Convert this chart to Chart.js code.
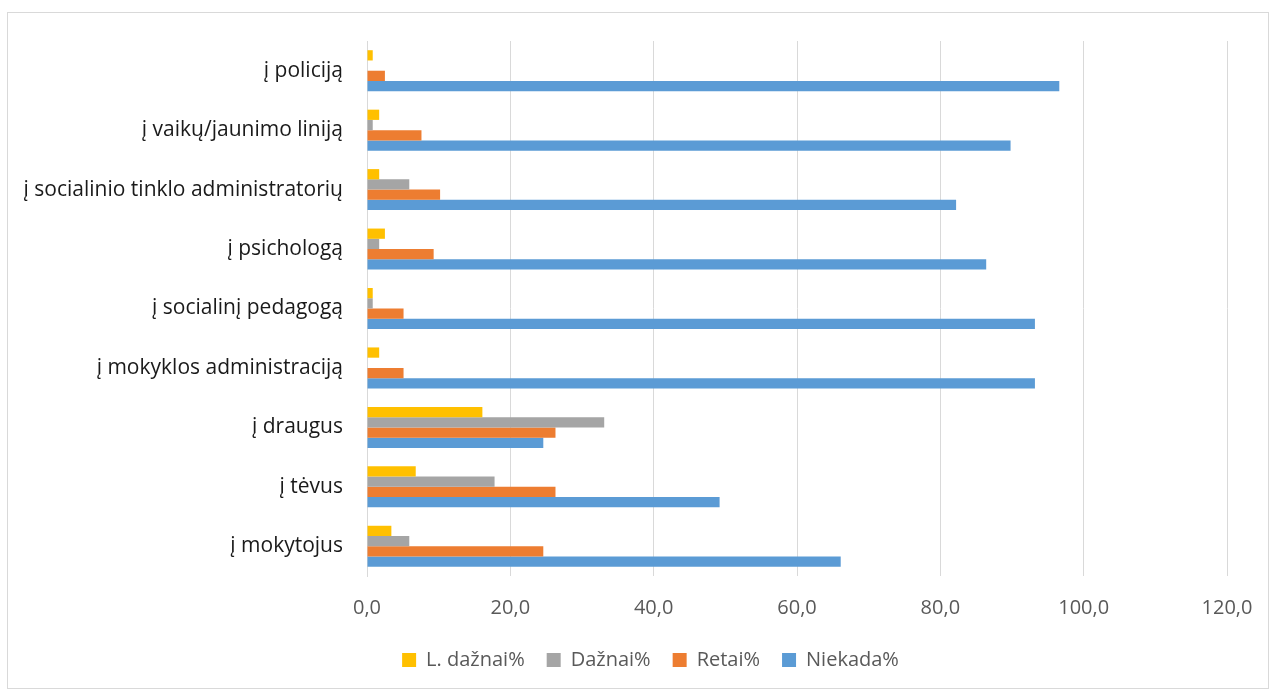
<!DOCTYPE html>
<html>
<head>
<meta charset="utf-8">
<script src="https://cdn.jsdelivr.net/npm/chart.js@4"></script>
<style>
    body { margin: 0; background: #fff; }
    #frame {
        position: absolute; left: 7px; top: 12px;
        width: 1262px; height: 677px;
        box-sizing: border-box; border: 1px solid #d9d9d9;
    }
    #chart { display: block; }
</style>
</head>
<body>
<div id="frame"><canvas id="chart" width="1260" height="675"></canvas></div>
<script>
// Categories, top to bottom
const categories = [
    'į policiją',
    'į vaikų/jaunimo liniją',
    'į socialinio tinklo administratorių',
    'į psichologą',
    'į socialinį pedagogą',
    'į mokyklos administraciją',
    'į draugus',
    'į tėvus',
    'į mokytojus'
];

// Series values (%)
const lDaznai = [0.8, 1.7, 1.7, 2.5, 0.8, 1.7, 16.1, 6.8, 3.4];
const daznai = [0, 0.8, 5.9, 1.7, 0.8, 0, 33.1, 17.8, 5.9];
const retai = [2.5, 7.6, 10.2, 9.3, 5.1, 5.1, 26.3, 26.3, 24.6];
const niekada = [96.6, 89.8, 82.2, 86.4, 93.2, 93.2, 24.6, 49.2, 66.1];

const seriesNames = ['L. dažnai%', 'Dažnai%', 'Retai%', 'Niekada%'];
const seriesColors = ['#FFC000', '#A5A5A5', '#ED7D31', '#5B9BD5'];

const FONT = '"Open Sans", Lato, sans-serif';

const datasets = [lDaznai, daznai, retai, niekada].map((values, i) => ({
    label: seriesNames[i],
    data: values,
    backgroundColor: seriesColors[i],
    borderWidth: 0,
    barPercentage: 1.0,
    categoryPercentage: 0.69
}));

// legend in the original sits a bit right of the canvas centre
const shiftLegend = {
    id: 'shiftLegend',
    afterLayout(chart) {
        chart.legend.left += 58;
    }
};

new Chart(document.getElementById('chart').getContext('2d'), {
    type: 'bar',
    data: { labels: categories, datasets: datasets },
    plugins: [shiftLegend],
    options: {
        indexAxis: 'y',
        responsive: false,
        animation: false,
        layout: {
            padding: { left: 8, right: 41, top: 28, bottom: 8 }
        },
        plugins: {
            tooltip: { enabled: false },
            legend: {
                position: 'bottom',
                labels: {
                    color: '#595959',
                    font: { family: FONT, size: 20 },
                    boxWidth: 14,
                    boxHeight: 14,
                    padding: 22
                }
            }
        },
        scales: {
            x: {
                min: 0,
                max: 120,
                ticks: {
                    stepSize: 20,
                    color: '#595959',
                    padding: 20,
                    font: { family: FONT, size: 20 },
                    callback: (v) => Number(v).toFixed(1).replace('.', ',')
                },
                grid: { color: '#d9d9d9', lineWidth: 1, drawTicks: false },
                border: { display: false },
                afterFit: (scale) => {
                    scale.height = 52;
                    scale.paddingLeft = 0;
                    scale.paddingRight = 0;
                }
            },
            y: {
                ticks: {
                    color: '#1a1a1a',
                    padding: 24,
                    font: { family: FONT, size: 21 }
                },
                grid: { display: false, drawTicks: false },
                border: { display: true, color: '#d9d9d9', width: 1 },
                afterFit: (scale) => {
                    scale.width = 351;
                    scale.paddingTop = 0;
                    scale.paddingBottom = 0;
                }
            }
        }
    }
});
</script>
</body>
</html>
